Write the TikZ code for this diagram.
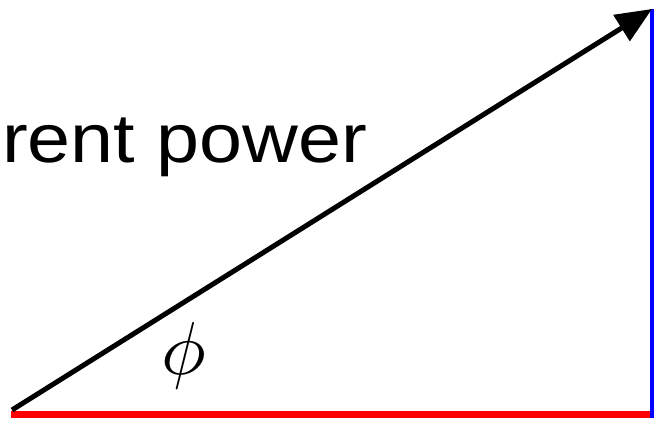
\documentclass[tikz,border=0pt]{standalone}
\usepackage{fontspec}
\setmainfont{Liberation Sans}[FakeStretch=1.12]
\usepackage{tikz}
\usetikzlibrary{arrows.meta}

\begin{document}
\begin{tikzpicture}[
  x=1pt, y=-1pt,
  real/.style={draw=red, line width=7pt},
  reactive/.style={draw=blue, line width=4pt},
  apparent/.style={-{Triangle[length=36pt, width=30pt]}, black, line width=5pt},
  lbl/.style={inner sep=0pt, font=\fontsize{69}{80}\selectfont}
]
  \useasboundingbox (0,0) rectangle (654,422);

  % Sommets du triangle
  \coordinate (O) at (11,414);
  \coordinate (A) at (12,410);
  \coordinate (Q) at (652,418);
  \coordinate (R) at (652,414);
  \coordinate (P) at (652,9);

  % Côtés
  \draw[real] (O) -- (R);
  \draw[reactive] (Q) -- (P);
  \draw[apparent] (A) -- (P);

  % Textes
  \node[lbl, anchor=base west] (ptxt) at (2,163) {rent power};
  \node[inner sep=0pt, scale=7.5] (phi) at (184,356) {$\phi$};
\end{tikzpicture}
\end{document}
